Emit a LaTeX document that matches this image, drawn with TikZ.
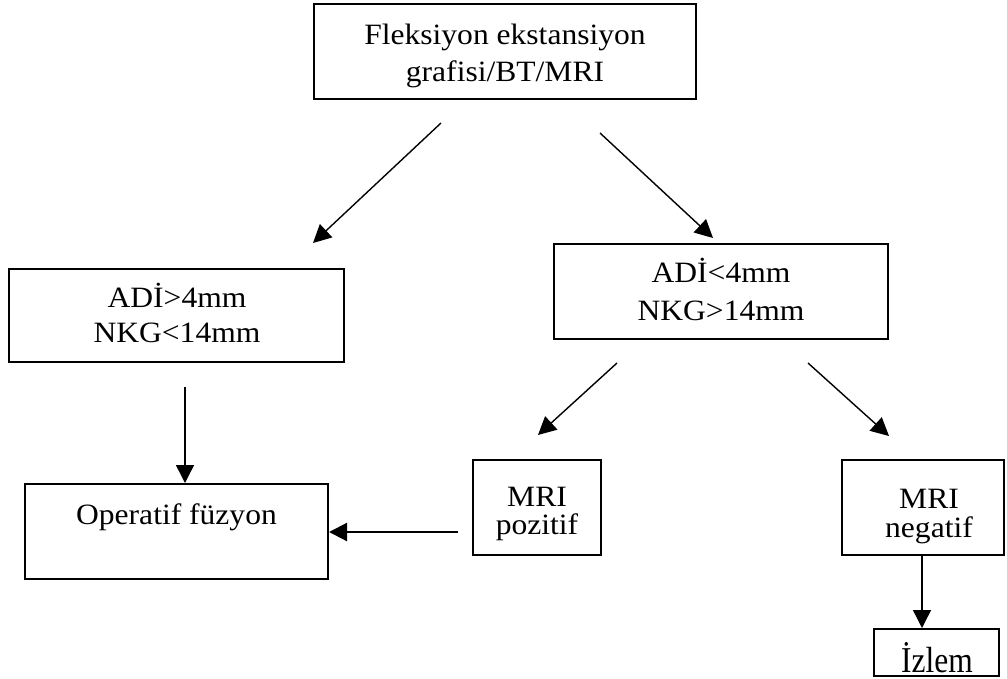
\documentclass[tikz,border=0pt]{standalone}
\usepackage{fontspec}
\usepackage{graphicx}
\setmainfont{Liberation Serif}[FakeStretch=1.07]
\usetikzlibrary{arrows.meta,calc}
\tikzset{
  box/.style={draw, line width=1.9pt, inner sep=0pt, rectangle},
  txt/.style={align=center, inner sep=0pt, font=\fontsize{29.5}{#1}\selectfont},
  txt/.default=37,
  arr/.style={line width=1.4pt, -{Triangle[length=18pt,width=18pt]}}
}
\begin{document}
\begin{tikzpicture}[x=1pt,y=-1pt]
\useasboundingbox (0,0) rectangle (1007,678);
% boxes
\node[box, minimum width=382.1pt, minimum height=95.1pt] (top) at (505,51.5) {};
\node[box, minimum width=335.1pt, minimum height=93.1pt] (left) at (176.5,315.5) {};
\node[box, minimum width=334.1pt, minimum height=95.1pt] (right) at (721,291.5) {};
\node[box, minimum width=303.1pt, minimum height=95.1pt] (op) at (176.5,531.5) {};
\node[box, minimum width=128.1pt, minimum height=95.1pt] (mp) at (537,507.5) {};
\node[box, minimum width=162.1pt, minimum height=95.1pt] (mn) at (923,507.5) {};
\node[box, minimum width=125.1pt, minimum height=47.1pt] (iz) at (936.5,652.5) {};
% texts
\node[txt=37] (toptext) at (505,55.7) {Fleksiyon ekstansiyon\\grafisi/BT/MRI};
\node[txt=35] (lefttext) at (177,313.3) {ADİ>4mm\\NKG<14mm};
\node[txt=38] (righttext) at (721,289.9) {ADİ<4mm\\NKG>14mm};
\node[anchor=base, inner sep=0pt, font=\fontsize{29.5}{37}\selectfont] (optext) at (176.5,524) {Operatif füzyon};
\node[txt=28.3] (mptext) at (537,514.3) {MRI\\pozitif};
\node[txt=29] (mntext) at (929,516.2) {MRI\\negatif};
\node[anchor=base, inner sep=0pt] (iztext) at (937,672) {\scalebox{1.05}[1.3]{\fontsize{28}{30}\selectfont İzlem}};
% free connector ends
\coordinate (a1s) at (441,123);
\coordinate (a1e) at (313,243);
\coordinate (a2s) at (600,133);
\coordinate (a2e) at (713,238);
\coordinate (a3s) at (185,387);
\coordinate (a4s) at (617,363);
\coordinate (a4e) at (538,435);
\coordinate (a5s) at (808,363);
\coordinate (a5e) at (889,436);
\coordinate (a6s) at (458,532);
\coordinate (a7x) at (922,0);
% connectors
\draw[arr] (a1s) -- (a1e);
\draw[arr] (a2s) -- (a2e);
\draw[arr] (a3s) -- (a3s |- op.north);
\draw[arr] (a4s) -- (a4e);
\draw[arr] (a5s) -- (a5e);
\draw[arr, line width=2.2pt] (a6s) -- (a6s -| op.east);
\draw[arr] (mn.south -| a7x) -- (iz.north -| a7x);
\end{tikzpicture}
\end{document}
